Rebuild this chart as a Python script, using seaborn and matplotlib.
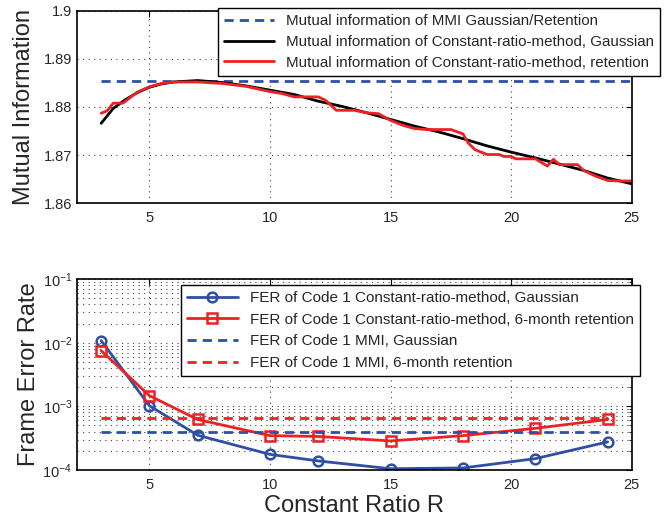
import numpy as np
import pandas as pd
import matplotlib
matplotlib.use("Agg")
import matplotlib.pyplot as plt
import seaborn as sns

# top panel: mutual information vs constant ratio R
r_gauss = [3, 3.5, 4, 4.5, 5, 5.5, 6, 7, 8, 9, 10, 11, 12, 13, 14, 15,
           16, 17, 18, 19, 20, 21, 22, 23, 24, 25]
mi_gauss = [1.8766, 1.8797, 1.8815, 1.8830, 1.8841, 1.8848, 1.8852, 1.8855,
            1.8851, 1.8844, 1.8835, 1.8826, 1.8812, 1.8801, 1.8788, 1.8774,
            1.8760, 1.8748, 1.8734, 1.8719, 1.8706, 1.8694, 1.8681, 1.8668,
            1.8652, 1.8640]

r_ret = [3, 3.25, 3.5, 3.9, 4.5, 5, 5.5, 6, 7, 8, 9, 10, 10.5, 11, 12,
         12.3, 12.75, 13.5, 14, 14.5, 15, 15.5, 16, 16.5, 17.5, 18, 18.2,
         18.5, 19, 19.5, 19.7, 20, 20.2, 21, 21.5, 21.75, 22, 22.75, 23,
         23.5, 24, 24.5, 25]
mi_ret = [1.8787, 1.8792, 1.8808, 1.8808, 1.8831, 1.8842, 1.8849, 1.8852,
          1.8852, 1.8849, 1.8843, 1.8832, 1.8828, 1.8821, 1.8821, 1.8814,
          1.8793, 1.8793, 1.8788, 1.8786, 1.8772, 1.8762, 1.8755, 1.8753,
          1.8753, 1.8744, 1.8726, 1.8711, 1.8701, 1.8701, 1.8697, 1.8697,
          1.8692, 1.8692, 1.8677, 1.8691, 1.8680, 1.8680, 1.8668, 1.8656,
          1.8647, 1.8646, 1.8646]

mi_mmi = 1.8855
mi_mmi_range = [3, 25]

# bottom panel: frame error rate
r_fer = [3, 5, 7, 10, 12, 15, 18, 21, 24]
fer_gauss = [1.08e-2, 1.02e-3, 3.5e-4, 1.75e-4, 1.38e-4, 1.04e-4, 1.07e-4,
             1.5e-4, 2.75e-4]
fer_ret = [7.5e-3, 1.47e-3, 6.2e-4, 3.45e-4, 3.35e-4, 2.85e-4, 3.45e-4,
           4.5e-4, 6.2e-4]
fer_mmi_gauss = 4.0e-4
fer_mmi_ret = 6.6e-4
fer_mmi_range = [3, 24]

blue = "#2e4fa3"
red = "#ed2024"

sns.set_style("white")
plt.rcParams["font.family"] = ["Liberation Sans", "DejaVu Sans"]
plt.rcParams["axes.unicode_minus"] = True

fig = plt.figure(figsize=(6.7, 5.18), dpi=100)
ax1 = fig.add_axes([0.115, 0.608, 0.828, 0.371])
ax2 = fig.add_axes([0.115, 0.093, 0.828, 0.368])

dash = (3.3, 2.2)

# ---- top panel
sns.lineplot(x=mi_mmi_range, y=[mi_mmi] * len(mi_mmi_range), ax=ax1,
             color=blue, lw=2, linestyle=(0, dash),
             label="Mutual information of MMI Gaussian/Retention")
sns.lineplot(x=r_gauss, y=mi_gauss, ax=ax1, color="black", lw=2,
             label="Mutual information of Constant-ratio-method, Gaussian")
sns.lineplot(x=r_ret, y=mi_ret, ax=ax1, color=red, lw=2,
             label="Mutual information of Constant-ratio-method, retention")

ax1.set_xlim(2, 25)
ax1.set_ylim(1.86, 1.9)
ax1.set_xticks([5, 10, 15, 20, 25])
ax1.set_yticks([1.86, 1.87, 1.88, 1.89, 1.9])
ax1.set_yticklabels(["1.86", "1.87", "1.88", "1.89", "1.9"])
ax1.set_ylabel("Mutual Information", fontsize=17, labelpad=6)
ax1.set_xlabel("")
ax1.grid(True, linestyle=(0, (1, 4)), color="#444444", lw=0.8)
ax1.legend(loc="upper right", bbox_to_anchor=(660 / 670, 1 - 8 / 518),
           bbox_transform=fig.transFigure, fontsize=10.9, handlelength=3.3,
           fancybox=False, edgecolor="black", framealpha=1,
           borderpad=0.4, labelspacing=0.45, borderaxespad=0)

# ---- bottom panel
sns.lineplot(x=r_fer, y=fer_gauss, ax=ax2, color=blue, lw=2, marker="o",
             ms=7, mfc="none", mec=blue, mew=1.8,
             label="FER of Code 1 Constant-ratio-method, Gaussian")
sns.lineplot(x=r_fer, y=fer_ret, ax=ax2, color=red, lw=2, marker="s",
             ms=7, mfc="none", mec=red, mew=1.8,
             label="FER of Code 1 Constant-ratio-method, 6-month retention")
sns.lineplot(x=fer_mmi_range, y=[fer_mmi_gauss] * len(fer_mmi_range), ax=ax2,
             color=blue, lw=2, linestyle=(0, dash),
             label="FER of Code 1 MMI, Gaussian")
sns.lineplot(x=fer_mmi_range, y=[fer_mmi_ret] * len(fer_mmi_range), ax=ax2,
             color=red, lw=2, linestyle=(0, dash),
             label="FER of Code 1 MMI, 6-month retention")

ax2.set_yscale("log")
ax2.set_xlim(2, 25)
ax2.set_ylim(1e-4, 1e-1)
ax2.set_xticks([5, 10, 15, 20, 25])
ax2.set_ylabel("Frame Error Rate", fontsize=17, labelpad=2)
ax2.set_xlabel("Constant Ratio R", fontsize=17, labelpad=2)
ax2.grid(True, which="major", axis="both", linestyle=(0, (1, 4)),
         color="#444444", lw=0.8)
ax2.grid(True, which="minor", axis="y", linestyle=(0, (1, 4)),
         color="#444444", lw=0.8)
ax2.legend(loc="upper right", bbox_to_anchor=(640 / 670, 1 - 285 / 518),
           bbox_transform=fig.transFigure, fontsize=11, handlelength=3.3,
           fancybox=False, edgecolor="black", framealpha=1,
           borderpad=0.4, labelspacing=0.5, borderaxespad=0)

for ax in (ax1, ax2):
    for s in ax.spines.values():
        s.set_color("black")
        s.set_linewidth(1.2)
    ax.tick_params(which="both", direction="in", top=True, right=True,
                   labelsize=10.5, color="black", length=4)
    ax.tick_params(which="minor", length=2)
    ax.tick_params(axis="x", pad=6)

ax1.legend_.get_frame().set_linewidth(1.0)
ax2.legend_.get_frame().set_linewidth(1.0)

fig.savefig("out.png", dpi=100)
